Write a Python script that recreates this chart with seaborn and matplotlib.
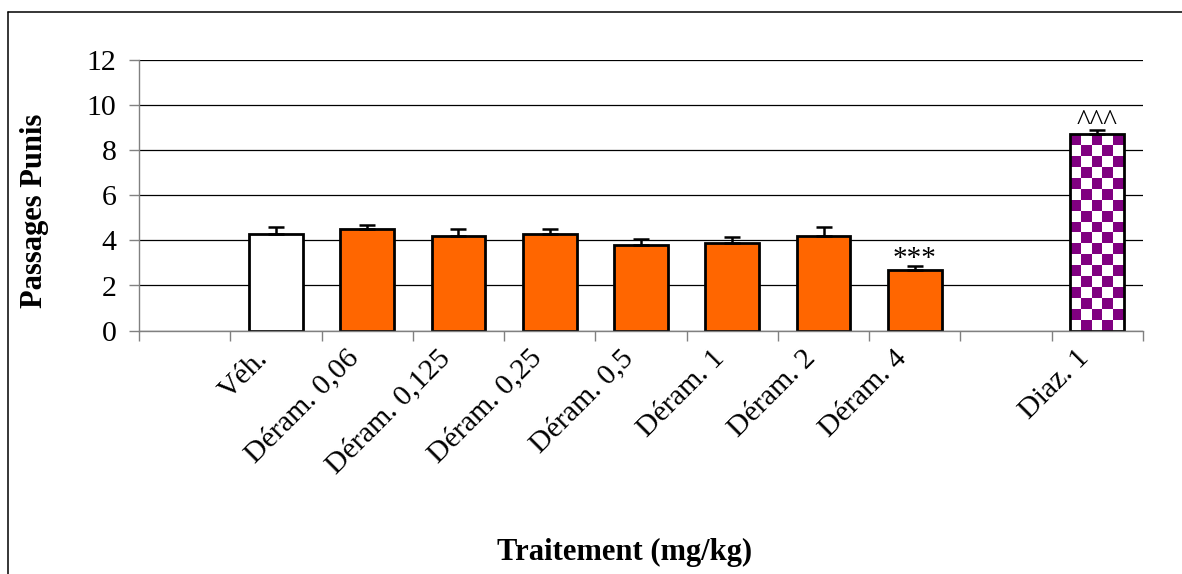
import numpy as np
import pandas as pd
import matplotlib
matplotlib.use("Agg")
import matplotlib.pyplot as plt
import seaborn as sns
from matplotlib.colors import ListedColormap
from matplotlib.transforms import ScaledTranslation
from matplotlib.lines import Line2D

# ---- data ----
slots = ["_gap0", "Véh.", "Déram. 0,06", "Déram. 0,125", "Déram. 0,25",
         "Déram. 0,5", "Déram. 1", "Déram. 2", "Déram. 4", "_gap1", "Diaz. 1"]
treatments = ["Véh.", "Déram. 0,06", "Déram. 0,125", "Déram. 0,25",
              "Déram. 0,5", "Déram. 1", "Déram. 2", "Déram. 4", "Diaz. 1"]
means = [4.3, 4.5, 4.2, 4.3, 3.8, 3.9, 4.2, 2.7, 8.7]
sems = [0.28, 0.18, 0.28, 0.22, 0.25, 0.25, 0.40, 0.17, 0.20]
marks = {"Déram. 4": "***", "Diaz. 1": "^^^"}
yticks = [0, 2, 4, 6, 8, 10, 12]

ORANGE = "#FF6600"
PURPLE = "#800080"
palette = {t: ORANGE for t in treatments}
palette["Véh."] = "white"
palette["Diaz. 1"] = "white"

df = pd.DataFrame({"treatment": treatments, "mean": means, "sem": sems})

sns.set_theme(style="white")
plt.rcParams["font.family"] = ["Liberation Serif", "DejaVu Serif"]

W, H = 1182, 574
fig = plt.figure(figsize=(W / 100, H / 100), dpi=100)
ax = fig.add_axes([139 / W, 1 - 330.7 / H, (1143 - 139) / W, (330.7 - 59.5) / H])

sns.barplot(data=df, x="treatment", y="mean", hue="treatment", order=slots,
            hue_order=treatments, palette=palette, saturation=1, width=0.59,
            edgecolor="black", linewidth=2.0, errorbar=None, legend=False,
            ax=ax, zorder=2)

# checkerboard fill for Diaz bar
diaz_pos = slots.index("Diaz. 1")
for p in ax.patches:
    cx = p.get_x() + p.get_width() / 2
    if abs(cx - diaz_pos) < 0.05:
        x0, w, h = p.get_x(), p.get_width(), p.get_height()
        nx = 5
        ny = int(round(h / 0.475))
        img = np.indices((ny, nx)).sum(axis=0) % 2
        im = ax.imshow(img, extent=[x0, x0 + w, 0, h], cmap=ListedColormap([PURPLE, "white"]),
                       aspect="auto", interpolation="nearest", zorder=1.9, origin="upper")
        im.set_clip_path(p)
        p.set_facecolor("none")

pos = [slots.index(t) for t in treatments]
ax.errorbar(pos, means, yerr=[np.zeros(len(means)), sems], fmt="none",
            ecolor="black", elinewidth=1.8, capsize=5.5, capthick=1.8, zorder=3)

for t, m in marks.items():
    i = treatments.index(t)
    ax.text(pos[i], means[i] + sems[i], m, ha="center", va="baseline",
            fontsize=21, color="black")

ax.set_xlim(-0.5, len(slots) - 0.5)
ax.set_ylim(0, 12)
ax.set_yticks(yticks)
ax.tick_params(axis="y", labelsize=21.5, length=7.2, width=1, color="#808080",
               direction="out", pad=9, left=True, labelcolor="black")

# x ticks: marks at slot boundaries, labels at slot centres
ax.set_xticks(np.arange(-0.5, len(slots)), [""] * (len(slots) + 1))
labels = ["" if s.startswith("_gap") else s for s in slots]
ax.set_xticks(np.arange(len(slots)), labels, minor=True)
ax.tick_params(axis="x", which="major", length=7.2, width=1, color="#808080",
               direction="out", bottom=True)
ax.tick_params(axis="x", which="minor", length=0, labelsize=21.5, pad=17,
               labelcolor="black")
off = ScaledTranslation(-12 / 100, 0, fig.dpi_scale_trans)
for lab in ax.get_xticklabels(minor=True):
    lab.set_rotation(45)
    lab.set_ha("right")
    lab.set_va("center")
    lab.set_rotation_mode("anchor")
    lab.set_transform(lab.get_transform() + off)

ax.yaxis.grid(True, color="black", linewidth=0.9)
ax.xaxis.grid(False)
ax.set_axisbelow(True)
for s in ["top", "right"]:
    ax.spines[s].set_visible(False)
for s in ["left", "bottom"]:
    ax.spines[s].set_color("#808080")
    ax.spines[s].set_linewidth(1)
    ax.spines[s].set_zorder(2.5)

ax.set_ylabel("Passages Punis", fontsize=22, fontweight="bold", color="black")
ax.yaxis.set_label_coords((49 - 139) / 1004, 0.441)
ax.set_xlabel("Traitement (mg/kg)", fontsize=22, fontweight="bold", color="black")
ax.xaxis.set_label_coords((625 - 139) / 1004, (330.7 - 538) / 271.2)

# outer chart frame
fig.add_artist(Line2D([7.5 / W, 1.01], [1 - 11.5 / H, 1 - 11.5 / H],
                      transform=fig.transFigure, color="black", lw=1.1))
fig.add_artist(Line2D([7.5 / W, 7.5 / W], [1 - 11.5 / H, -0.01],
                      transform=fig.transFigure, color="black", lw=1.1))

fig.savefig("out.png", dpi=100, facecolor="white")
